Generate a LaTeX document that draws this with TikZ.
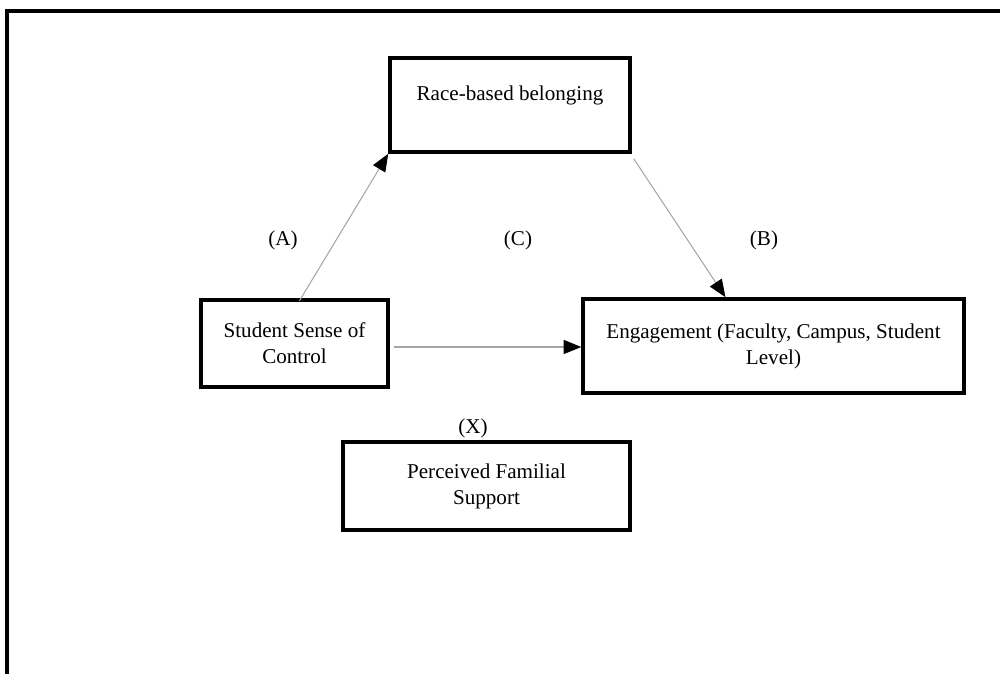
\documentclass[tikz,border=0pt]{standalone}
\usepackage{fontspec}
\setmainfont{Liberation Serif}
\usetikzlibrary{arrows.meta,calc}

\begin{document}
\begin{tikzpicture}
			\tikzstyle{box}=[draw,line width=2pt,align=center,inner sep=0pt,font=\fontsize{12}{14.8}\selectfont]
			\tikzstyle{tag}=[font=\fontsize{12}{14.8}\selectfont]
			\tikzstyle{link}=[draw,gray!70,line width=0.6pt,-{Triangle[length=10pt,width=8pt,color=black]}]
			
			\useasboundingbox (0,0) rectangle (20,-13.48);
			\draw[line width=2pt] (20,-0.22) -- (0.14,-0.22) -- (0.14,-13.48);
			
			\node[box,minimum width=4.8cm,minimum height=1.88cm,text depth=14pt] (race) at (10.2,-2.1) {Race-based belonging};
			\node[box,minimum width=3.74cm,minimum height=1.74cm] (stc) at (5.89,-6.87) {Student Sense of\\Control};
			\node[box,minimum width=7.62cm,minimum height=1.88cm] (eng) at (15.47,-6.92) {Engagement (Faculty, Campus, Student\\Level)};
			\node[box,minimum width=5.74cm,minimum height=1.76cm] (pfs) at (9.73,-9.72) {Perceived Familial\\Support};
			
			\node[tag] (a) at (5.66,-4.8) {(A)};
			\node[tag] (c) at (10.36,-4.8) {(C)};
			\node[tag] (b) at (15.28,-4.8) {(B)};
			\node[tag] (x) at (9.46,-8.56) {(X)};
			
			\coordinate (cstart) at ($(stc.east)+(0.08,-0.07)$);
			\coordinate (cend) at ($(eng.west)+(0,-0.02)$);
			
			\draw[link] ($(stc.north)+(0.1,-0.05)$) -- (race.south west);
			\draw[link] ($(race.south east)+(0.04,-0.1)$) -- ($(eng.north)+(-0.96,0)$);
			\draw[link] (cstart) -- (cend);
		\end{tikzpicture}
\end{document}
